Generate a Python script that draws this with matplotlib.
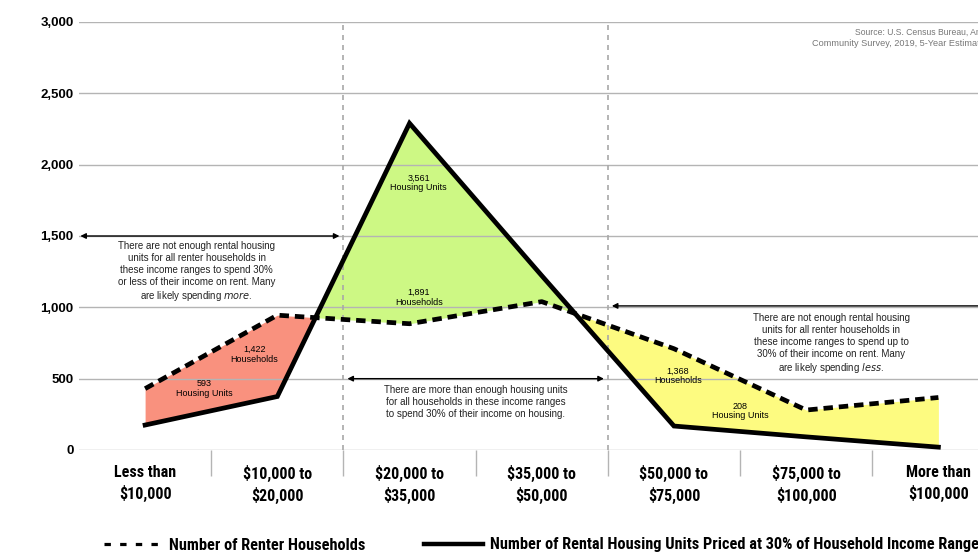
import matplotlib
matplotlib.use("Agg")
import matplotlib.pyplot as plt
from matplotlib.lines import Line2D
from matplotlib import font_manager
import numpy as np

# Income ranges and series values
categories = ["Less than\n$10,000", "$10,000 to\n$20,000", "$20,000 to\n$35,000",
              "$35,000 to\n$50,000", "$50,000 to\n$75,000", "$75,000 to\n$100,000",
              "More than\n$100,000"]
renter_households = [430, 945, 885, 1040, 710, 280, 368]
rental_units = [175, 375, 2290, 1222, 168, 92, 20]
y_ticks = [0, 500, 1000, 1500, 2000, 2500, 3000]

# Gap labels
gap_labels = ["593\nHousing Units", "1,422\nHouseholds", "3,561\nHousing Units",
              "1,891\nHouseholds", "1,368\nHouseholds", "208\nHousing Units"]
gap_label_pos = [(0.45, 431), (0.825, 669), (2.07, 1871), (2.07, 1069), (4.03, 519), (4.50, 273)]

plt.rcParams["font.family"] = ["Liberation Sans", "DejaVu Sans"]


def condensed_bold(size):
    files = {f.fname.split("/")[-1]: f.fname for f in font_manager.fontManager.ttflist}
    for cand in ("RobotoCondensed-Bold.ttf", "FiraSansCondensed-Bold.ttf",
                 "AsapCondensed-Bold.ttf", "IBMPlexSansCondensed-Bold.ttf",
                 "DejaVuSansCondensed-Bold.ttf"):
        if cand in files:
            return font_manager.FontProperties(fname=files[cand], size=size)
    return font_manager.FontProperties(family="Liberation Sans", weight="bold", size=size * 0.85)


cat_font = condensed_bold(11.5)
leg_font = condensed_bold(11.7)

fig = plt.figure(figsize=(9.79, 5.52), dpi=100)
ax = fig.add_axes([79 / 979, 1 - 450 / 552, 925.5 / 979, 428 / 552])

x = np.arange(len(categories))
hh = np.array(renter_households, dtype=float)
un = np.array(rental_units, dtype=float)

# Shaded gaps (under the gridlines)
ax.fill_between(x[:3], un[:3], hh[:3], where=hh[:3] >= un[:3], interpolate=True,
                color="#F9917E", lw=0, zorder=0.2)
ax.fill_between(x, un, hh, where=un >= hh, interpolate=True,
                color="#CDF884", lw=0, zorder=0.2)
ax.fill_between(x[3:], un[3:], hh[3:], where=hh[3:] >= un[3:], interpolate=True,
                color="#FDFB80", lw=0, zorder=0.2)

ax.plot(x, hh, color="black", lw=3.4, ls=(0, (2.0, 1.25)), dash_capstyle="butt", zorder=3)
ax.plot(x, un, color="black", lw=3.4, solid_joinstyle="miter", zorder=3)

ax.set_xlim(-0.5, 6.5)
ax.set_ylim(0, 3000)
ax.set_yticks(y_ticks)
ax.set_yticklabels([f"{v:,}" for v in y_ticks], fontsize=9.5, fontweight="bold")
ax.yaxis.grid(True, color="#b4b4b4", lw=1)
ax.set_axisbelow(True)
for s in ax.spines.values():
    s.set_visible(False)
ax.tick_params(axis="y", length=0, pad=4)

ax.set_xticks(x)
ax.set_xticklabels(categories, fontproperties=cat_font, linespacing=1.35)
ax.tick_params(axis="x", length=0, pad=11)
ax.set_xticks(np.arange(0.5, 7, 1), minor=True)
ax.tick_params(axis="x", which="minor", length=19, color="#b4b4b4", width=1, direction="out")

# Dotted separators around the surplus range
for xv in (1.5, 3.5):
    ax.axvline(xv, color="#a8a8a8", lw=1.2, ls=(0, (3, 3)), zorder=0.6)

for (px, py), t in zip(gap_label_pos, gap_labels):
    ax.text(px, py, t, ha="center", va="center", fontsize=6.5, linespacing=1.1, zorder=4)

arrow = dict(arrowstyle="<|-|>", color="black", lw=1, mutation_scale=8, shrinkA=0, shrinkB=0)
ax.annotate("", xy=(-0.49, 1500), xytext=(1.47, 1500), arrowprops=arrow)
ax.annotate("", xy=(1.53, 500), xytext=(3.47, 500), arrowprops=arrow)
ax.annotate("", xy=(3.53, 1010), xytext=(6.6, 1010),
            arrowprops=dict(arrowstyle="-|>", color="black", lw=1, mutation_scale=8,
                            shrinkA=0, shrinkB=0))

ax.text(0.39, 1468, "There are not enough rental housing\nunits for all renter households in\n"
        "these income ranges to spend 30%\nor less of their income on rent. Many\n"
        "are likely spending $\\it{more}$.", ha="center", va="top", fontsize=7,
        linespacing=1.25, color="#222222")
ax.text(2.5, 458, "There are more than enough housing units\nfor all households in these income ranges\n"
        "to spend 30% of their income on housing.", ha="center", va="top", fontsize=7,
        linespacing=1.25, color="#222222")
ax.text(5.19, 962, "There are not enough rental housing\nunits for all renter households in\n"
        "these income ranges to spend up to\n30% of their income on rent. Many\n"
        "are likely spending $\\it{less}$.", ha="center", va="top", fontsize=7,
        linespacing=1.25, color="#222222")

# Source note, running off the right edge of the chart area
fig.text(855 / 979, 1 - 32 / 552, "Source: U.S. Census Bureau, American",
         ha="left", va="center", fontsize=6.2, color="#777777")
fig.text(812 / 979, 1 - 44 / 552, "Community Survey, 2019, 5-Year Estimates",
         ha="left", va="center", fontsize=6.6, color="#777777")

handles = [Line2D([], [], color="black", lw=2.3, ls=(0, (2.0, 2.9)), dash_capstyle="butt"),
           Line2D([], [], color="black", lw=3.2)]
fig.legend(handles, ["Number of Renter Households",
                     "Number of Rental Housing Units Priced at 30% of Household Income Range"],
           loc="center", bbox_to_anchor=(0.553, 1 - 545 / 552), ncol=2, frameon=False,
           prop=leg_font, handlelength=3.6, columnspacing=3.6, handletextpad=0.45)

fig.savefig("out.png", dpi=100)
